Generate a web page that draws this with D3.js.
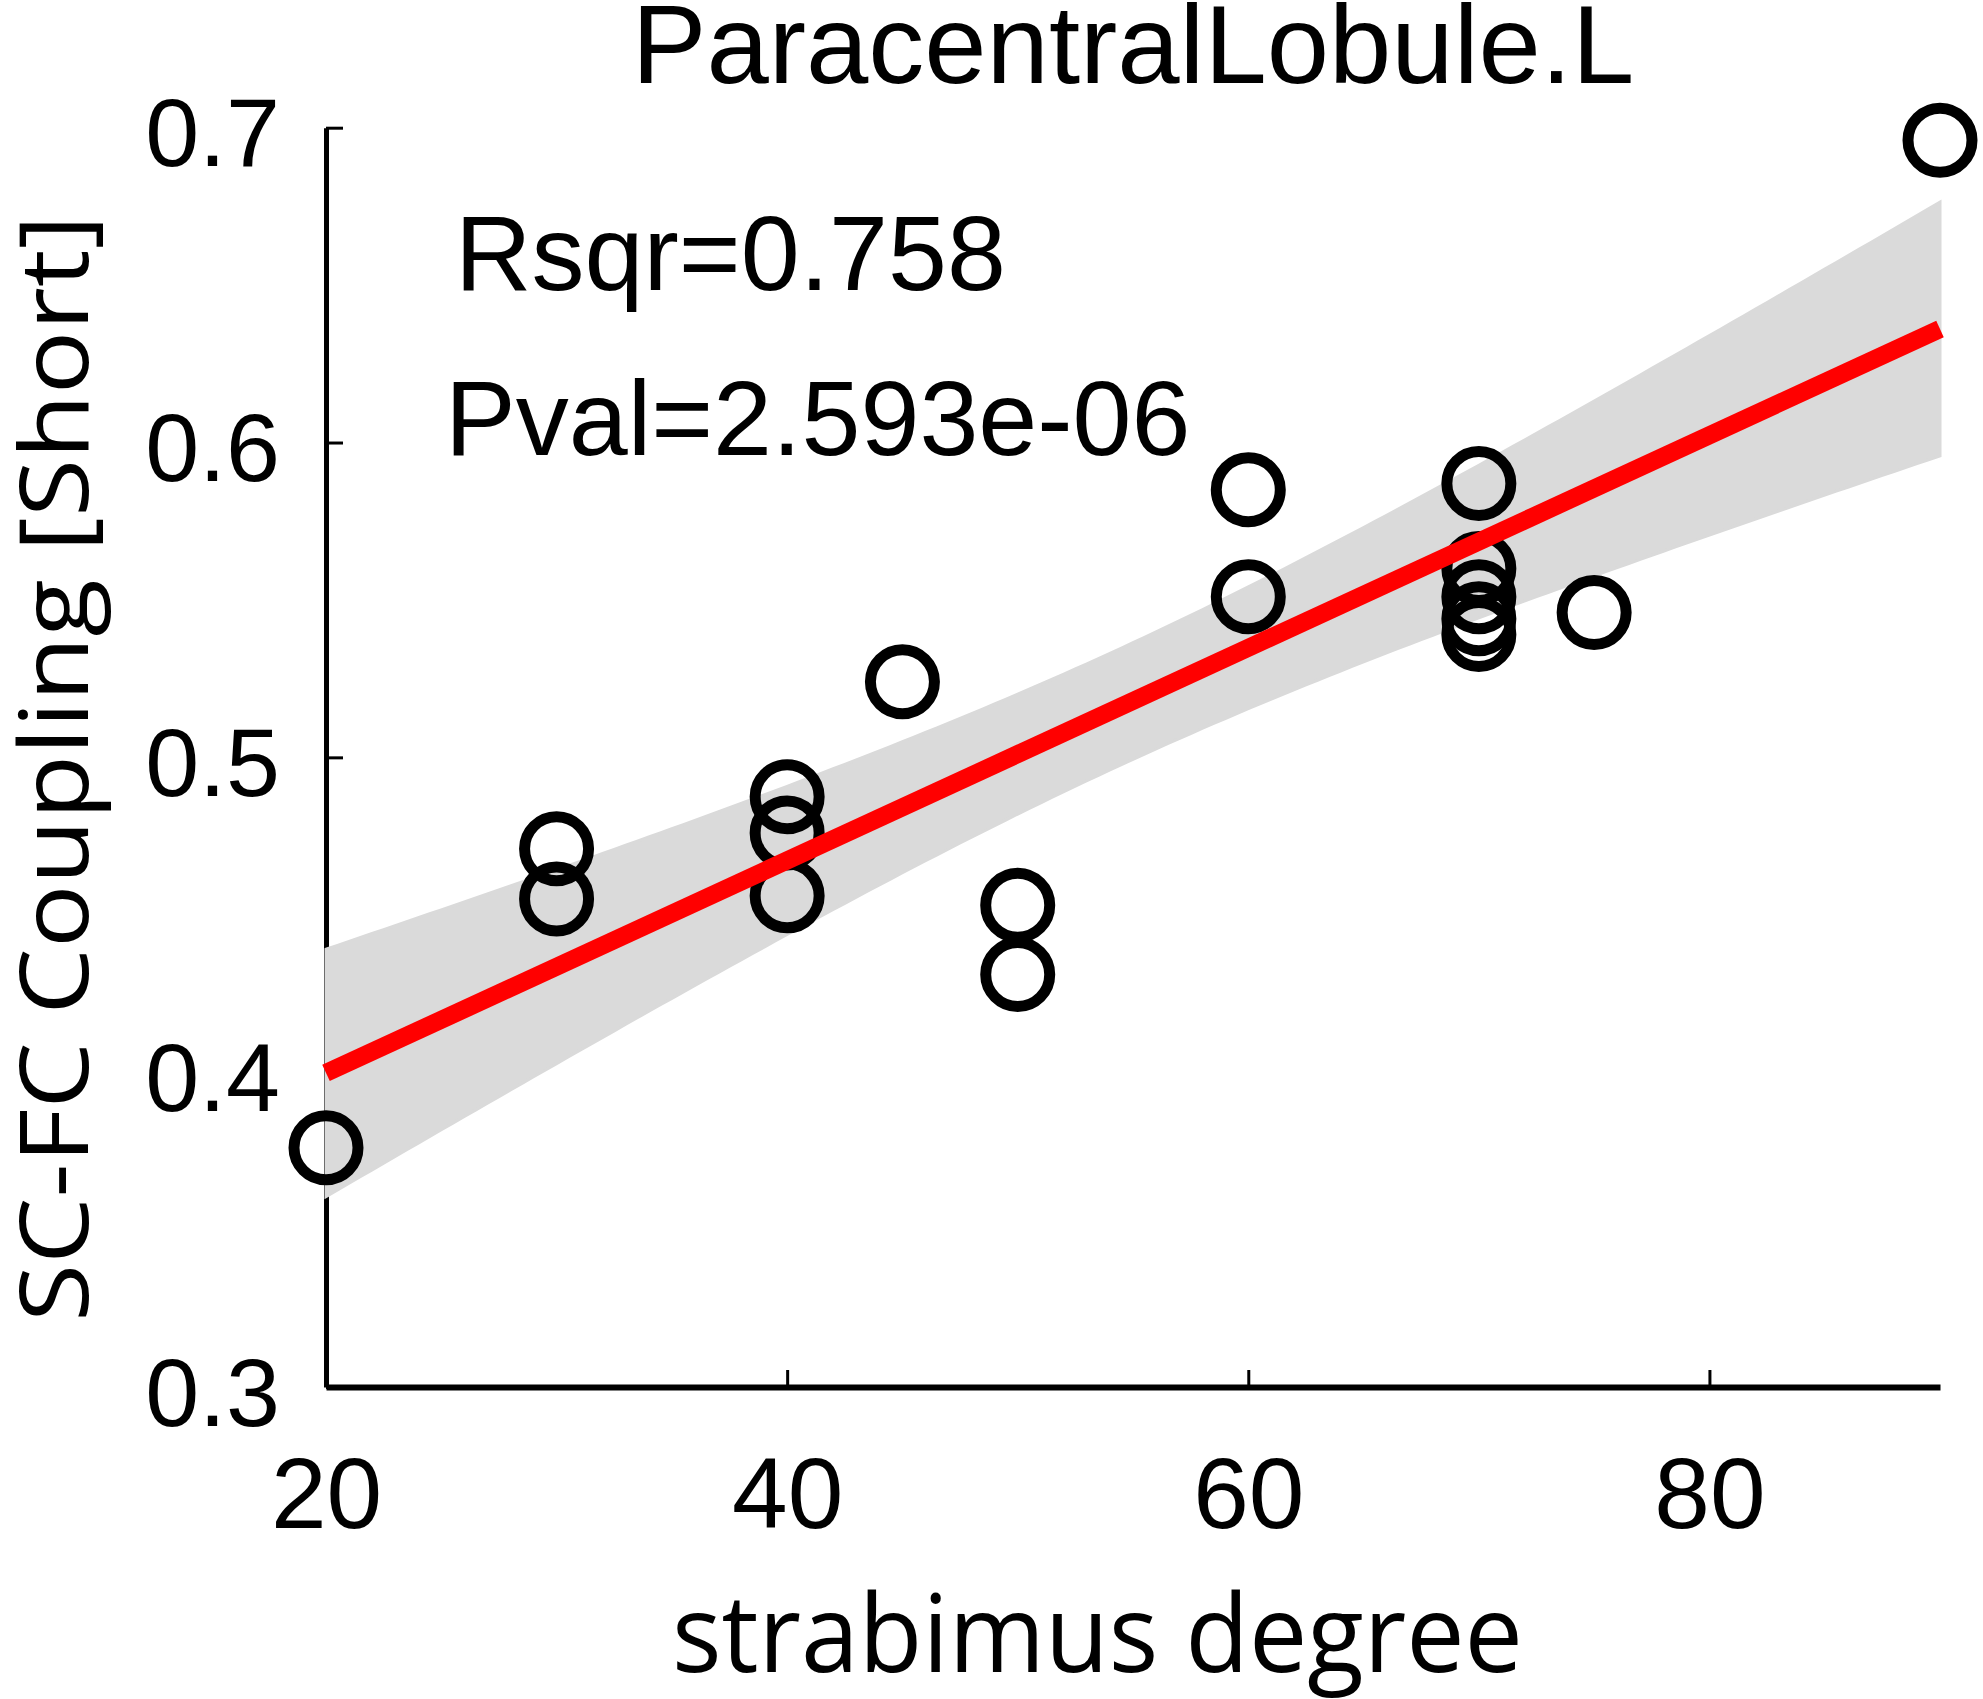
<!DOCTYPE html>
<html>
<head>
<meta charset="utf-8">
<script src="https://cdn.jsdelivr.net/npm/d3@7"></script>
<style>
  html, body { margin: 0; padding: 0; background: #fff; }
  svg { display: block; }
</style>
</head>
<body>
<svg id="chart" width="1983" height="1699"></svg>
<script>
// ---- data ----
const xVals = [20, 30, 30, 40, 40, 40, 45, 50, 50, 60, 60, 70, 70, 70, 70, 70, 75, 90];
const yVals = [0.376, 0.471, 0.455, 0.4875, 0.476, 0.456, 0.524, 0.453, 0.431, 0.585, 0.551,
               0.587, 0.560, 0.551, 0.544, 0.539, 0.546, 0.696];
const xTicks = [20, 40, 60, 80];
const yTicks = [0.3, 0.4, 0.5, 0.6, 0.7];
const xDomain = [20, 90];
const yDomain = [0.3, 0.7];
const titleText = "ParacentralLobule.L";
const xLabelText = "strabimus degree";
const yLabelText = "SC-FC Coupling [Short]";
const statTexts = ["Rsqr=0.758", "Pval=2.593e-06"];

// ---- linear fit + 95% confidence band of the mean ----
const n = xVals.length;
const mx = d3.mean(xVals), my = d3.mean(yVals);
let sxx = 0, sxy = 0;
for (let i = 0; i < n; i++) { sxx += (xVals[i]-mx)**2; sxy += (xVals[i]-mx)*(yVals[i]-my); }
const slope = sxy / sxx, intercept = my - slope * mx;
let sse = 0;
for (let i = 0; i < n; i++) sse += (yVals[i] - (intercept + slope*xVals[i]))**2;
const s = Math.sqrt(sse / (n - 2));
const tCrit = 2.1199; // t(0.975, df=16)
const fit = x => intercept + slope * x;
const half = x => tCrit * s * Math.sqrt(1/n + (x-mx)**2/sxx);
const bandX = d3.range(xDomain[0], xDomain[1] + 1e-9, 0.5);

// ---- scales ----
const svg = d3.select("#chart");
const x = d3.scaleLinear().domain(xDomain).range([326, 1940]);
const y = d3.scaleLinear().domain(yDomain).range([1387, 127.7]);

const FONT = "'Liberation Sans', Arial, Helvetica, sans-serif";
const FONT2 = "'Open Sans', 'Noto Sans', 'DejaVu Sans', sans-serif";

// ---- axes ----
const gx = svg.append("g").attr("transform", `translate(0,${y(yDomain[0])})`)
  .call(d3.axisBottom(x).tickValues(xTicks).tickSizeInner(-17).tickSizeOuter(0).tickFormat(d3.format("d")));
gx.select(".domain").attr("stroke-width", 6);
gx.selectAll(".tick line").attr("stroke-width", 3);
gx.selectAll(".tick text").attr("y", 141).attr("dy", 0)
  .attr("font-family", FONT).attr("font-size", 100).attr("fill", "#000");

const gy = svg.append("g").attr("transform", `translate(${x(xDomain[0])},0)`)
  .call(d3.axisLeft(y).tickValues(yTicks).tickSizeInner(-17).tickSizeOuter(0).tickFormat(d3.format(".1f")));
gy.select(".domain").attr("stroke-width", 5);
gy.selectAll(".tick line").attr("stroke-width", 3);
gy.selectAll(".tick text").attr("x", -46).attr("dy", 38)
  .attr("font-family", FONT).attr("font-size", 97).attr("fill", "#000");

// ---- confidence band ----
const area = d3.area()
  .x(d => x(d))
  .y0(d => y(fit(d) - half(d)))
  .y1(d => y(fit(d) + half(d)));
svg.append("path").datum(bandX).attr("d", area)
  .attr("fill", "#dadada").attr("stroke", "#dadada").attr("stroke-width", 3);

// ---- data points ----
svg.append("g").selectAll("circle").data(xVals).join("circle")
  .attr("cx", (d) => x(d))
  .attr("cy", (d, i) => y(yVals[i]))
  .attr("r", 32)
  .attr("fill", "none")
  .attr("stroke", "#000")
  .attr("stroke-width", 11);

// ---- fit line ----
svg.append("path").datum(xDomain)
  .attr("d", d3.line().x(d => x(d)).y(d => y(fit(d))))
  .attr("stroke", "#ff0000").attr("stroke-width", 18).attr("fill", "none");

// ---- texts ----
svg.append("text").attr("x", (x.range()[0] + x.range()[1]) / 2).attr("y", 83)
  .attr("text-anchor", "middle").attr("font-family", FONT).attr("font-size", 112)
  .text(titleText);

svg.append("text").attr("x", 455).attr("y", 290)
  .attr("font-family", FONT).attr("font-size", 106).text(statTexts[0]);
svg.append("text").attr("x", 445).attr("y", 455)
  .attr("font-family", FONT).attr("font-size", 106).text(statTexts[1]);

svg.append("text").attr("x", 672).attr("y", 1672)
  .attr("font-family", FONT2).attr("font-size", 108)
  .attr("textLength", 851).attr("lengthAdjust", "spacingAndGlyphs")
  .text(xLabelText);

svg.append("text")
  .attr("transform", "translate(88,1322) rotate(-90)")
  .attr("x", 0).attr("y", 0)
  .attr("font-family", FONT2).attr("font-size", 95)
  .attr("textLength", 1107).attr("lengthAdjust", "spacingAndGlyphs")
  .text(yLabelText);
</script>
</body>
</html>
